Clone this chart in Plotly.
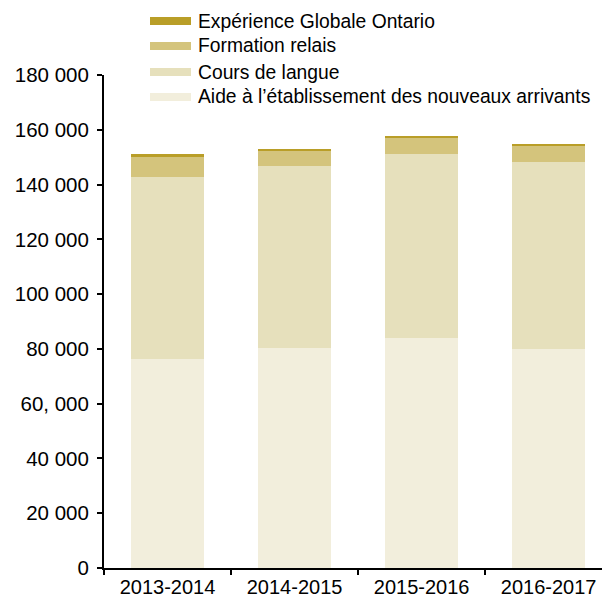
import plotly.graph_objects as go

# Fiscal years on the x axis
years = ["2013-2014", "2014-2015", "2015-2016", "2016-2017"]

# Clients served per program (stacked bottom to top)
aide_etablissement = [76300, 80300, 84000, 80000]
cours_langue = [66300, 66500, 67000, 68200]
formation_relais = [7400, 5500, 6200, 5900]
experience_globale = [1300, 350, 450, 600]

series_names = [
    "Aide à l’établissement des nouveaux arrivants",
    "Cours de langue",
    "Formation relais",
    "Expérience Globale Ontario",
]
series_values = [aide_etablissement, cours_langue, formation_relais, experience_globale]
series_colors = ["#F2EEDC", "#E6E0BC", "#D4C47C", "#B99E28"]

# Y axis ticks
y_tickvals = [0, 20000, 40000, 60000, 80000, 100000, 120000, 140000, 160000, 180000]
y_ticktext = ["0", "20 000", "40 000", "60, 000", "80 000", "100 000",
              "120 000", "140 000", "160 000", "180 000"]

FONT = "Liberation Sans, Arial, sans-serif"

fig = go.Figure()
for name, vals, color in zip(series_names, series_values, series_colors):
    fig.add_trace(go.Bar(
        x=years, y=vals, name=name,
        marker=dict(color=color, line=dict(width=0)),
        width=0.57, showlegend=False,
    ))

W, H = 604, 597
L, R, T, B = 104, 2, 75, 29
plot_w = W - L - R
plot_h = H - T - B

# Hand-built legend: wide flat swatches with labels, top entry first
legend_rows_px = [21, 46, 72, 97]
for i, (name, color) in enumerate(zip(reversed(series_names), reversed(series_colors))):
    cy = T - legend_rows_px[i]
    fig.add_shape(
        type="rect", xref="paper", yref="paper",
        xsizemode="pixel", ysizemode="pixel", xanchor=0, yanchor=1,
        x0=46, x1=87, y0=cy - 4, y1=cy + 4,
        fillcolor=color, line=dict(width=0), layer="above",
    )
    fig.add_annotation(
        xref="paper", yref="paper",
        x=(196 - L) / plot_w, y=1 + cy / plot_h,
        xanchor="left", yanchor="middle",
        text=name, showarrow=False,
        font=dict(family=FONT, size=19.3, color="#000000"),
    )

fig.update_layout(
    width=W, height=H,
    margin=dict(l=L, r=R, t=T, b=B, pad=0),
    barmode="stack",
    paper_bgcolor="white", plot_bgcolor="white",
    font=dict(family=FONT, size=20, color="#000000"),
    showlegend=False,
    xaxis=dict(
        type="category", range=[-0.5, 3.42],
        showline=True, linecolor="#000000", linewidth=2,
        ticks="outside", tickson="boundaries", ticklen=5,
        tickwidth=2, tickcolor="#000000",
        showgrid=False, zeroline=False,
        ticklabelstandoff=0, automargin=False,
        tickfont=dict(family=FONT, size=20),
    ),
    yaxis=dict(
        range=[0, 180000],
        tickvals=y_tickvals, ticktext=y_ticktext,
        showline=True, linecolor="#000000", linewidth=2,
        ticks="outside", ticklen=5, tickwidth=2, tickcolor="#000000",
        showgrid=False, zeroline=False,
        ticklabelstandoff=4, automargin=False,
        tickfont=dict(family=FONT, size=20.5),
    ),
)

fig.write_html("out.html")
